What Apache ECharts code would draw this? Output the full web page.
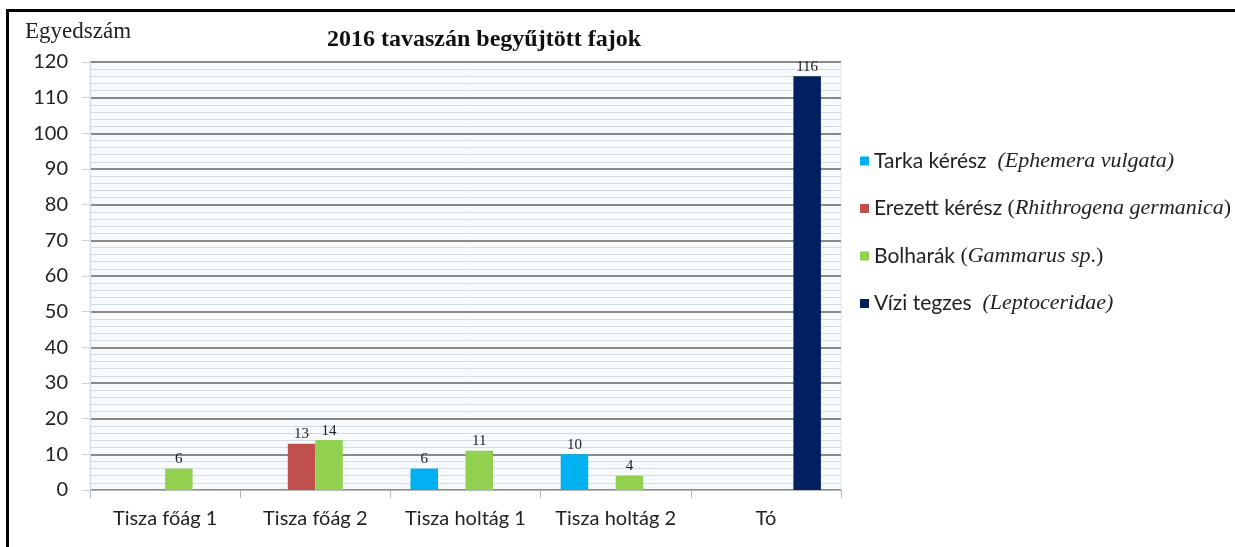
<!DOCTYPE html>
<html>
<head>
<meta charset="utf-8">
<script src="https://cdn.jsdelivr.net/npm/echarts@6/dist/echarts.min.js"></script>
<style>
  html, body { margin: 0; padding: 0; background: #fff; }
  #chart { width: 1235px; height: 547px; }
</style>
</head>
<body>
<div id="chart"></div>
<script>
const categories = ['Tisza főág 1', 'Tisza főág 2', 'Tisza holtág 1', 'Tisza holtág 2', 'Tó']
const tarka = [null, null, 6, 10, null]
const erezett = [null, 13, null, null, null]
const bolha = [6, 14, 11, 4, null]
const vizi = [null, null, null, null, 116]
const seriesNames = ['Tarka kérész', 'Erezett kérész', 'Bolharák', 'Vízi tegzes']
const seriesColors = ['#00b0f0', '#c0504d', '#92d050', '#002060']

const chart = echarts.init(document.getElementById('chart'))

const legendText = {
  'Tarka kérész': 'Tarka kérész {it| (Ephemera vulgata)}',
  'Erezett kérész': 'Erezett kérész {sf|(}{it|Rhithrogena germanica}{sf|)}',
  'Bolharák': 'Bolharák {sf|(}{it|Gammarus sp}{sf|.)}',
  'Vízi tegzes': 'Vízi tegzes {it| (Leptoceridae)}'
}

const makeSeries = (name, data, color) => {
  return {
    name,
    type: 'bar',
    data,
    barWidth: 27.5,
    barGap: 0,
    itemStyle: { color },
    label: {
      show: true,
      position: 'top',
      distance: 2,
      color: '#222',
      fontFamily: 'Liberation Serif',
      fontSize: 15
    }
  }
}

const option = {
  backgroundColor: '#fff',
  animation: false,
  title: {
    text: '2016 tavaszán begyűjtött fajok',
    left: 479,
    textAlign: 'center',
    top: 23,
    textStyle: {
      fontFamily: 'Liberation Serif',
      fontWeight: 'bold',
      fontSize: 24,
      color: '#111'
    }
  },
  graphic: [
    {
      type: 'text',
      left: 25,
      top: 20,
      style: { text: 'Egyedszám', font: '23px "Liberation Serif"', fill: '#222' }
    },
    { type: 'rect', shape: { x: 6, y: 9, width: 1229, height: 3 }, style: { fill: '#000' } },
    { type: 'rect', shape: { x: 6, y: 9, width: 3, height: 538 }, style: { fill: '#000' } }
  ],
  legend: {
    orient: 'vertical',
    left: 855,
    top: 144,
    itemWidth: 9,
    itemHeight: 9,
    itemGap: 23.5,
    icon: 'rect',
    data: seriesNames,
    formatter: name => legendText[name],
    textStyle: {
      fontFamily: 'Lato',
      fontSize: 21,
      color: '#222',
      lineHeight: 24,
      rich: {
        it: { fontFamily: 'Liberation Serif', fontStyle: 'italic', fontSize: 22, color: '#222' },
        sf: { fontFamily: 'Liberation Serif', fontSize: 22, color: '#222' }
      }
    }
  },
  grid: {
    left: 90,
    right: 394,
    top: 62,
    bottom: 57,
    show: true,
    backgroundColor: '#f8fbfe',
    borderColor: '#dde4ea',
    borderWidth: 1
  },
  xAxis: {
    type: 'category',
    data: categories,
    axisLine: { lineStyle: { color: '#b8b8b8', width: 1 } },
    axisTick: { show: true, length: 8, lineStyle: { color: '#b8b8b8' } },
    axisLabel: {
      interval: 0,
      hideOverlap: false,
      margin: 19,
      fontFamily: 'Lato',
      fontSize: 20,
      color: '#222'
    }
  },
  yAxis: {
    type: 'value',
    min: 0,
    max: 120,
    interval: 10,
    axisLine: { show: true, lineStyle: { color: '#d8dee4' } },
    axisTick: { show: true, length: 8, lineStyle: { color: '#d0d0d0' } },
    axisLabel: {
      margin: 22,
      fontFamily: 'Lato',
      fontSize: 20,
      color: '#222'
    },
    splitLine: { lineStyle: { color: '#8a8a8a', width: 2 } },
    minorTick: { show: false, splitNumber: 5 },
    minorSplitLine: { show: true, lineStyle: { color: '#d3dbe3', width: 1 } }
  },
  series: [
    makeSeries(seriesNames[0], tarka, seriesColors[0]),
    makeSeries(seriesNames[1], erezett, seriesColors[1]),
    makeSeries(seriesNames[2], bolha, seriesColors[2]),
    makeSeries(seriesNames[3], vizi, seriesColors[3])
  ]
}

chart.setOption(option)
</script>
</body>
</html>
